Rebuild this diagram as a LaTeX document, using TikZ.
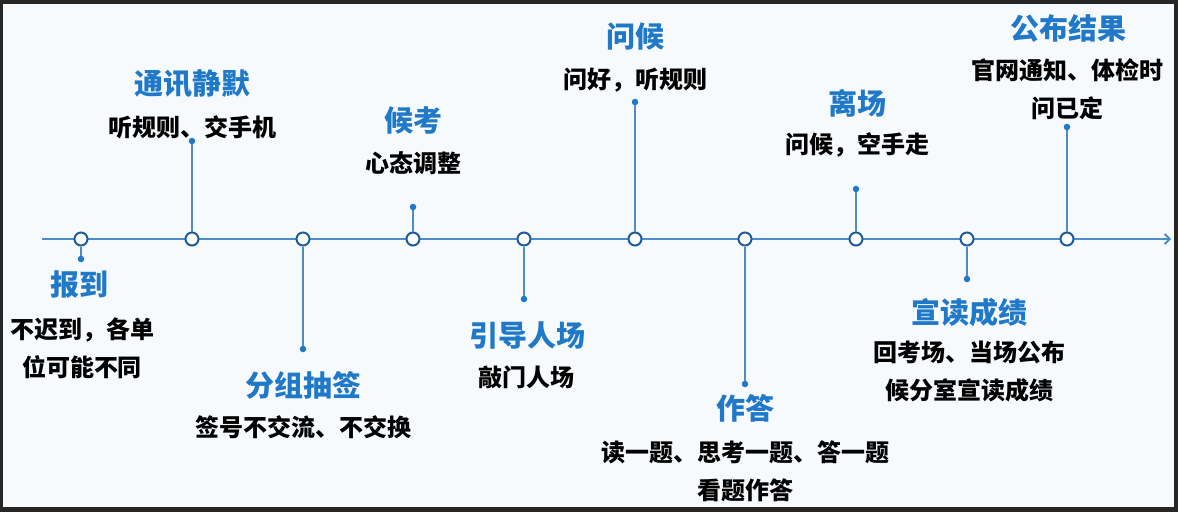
\documentclass[tikz,border=0pt]{standalone}
\usepackage{fontspec}
\setmainfont{Noto Sans CJK SC}
\usetikzlibrary{arrows.meta}
\definecolor{axisblue}{HTML}{4B8DCB}
\definecolor{ringblue}{HTML}{1F5C9A}
\definecolor{headblue}{HTML}{1F78C8}
\definecolor{paper}{HTML}{F7FAFD}

\begin{document}
\begin{tikzpicture}[x=1pt,y=-1pt,
    stage/.style={circle,draw=ringblue,fill=white,line width=2pt,minimum size=13pt,inner sep=0pt},
    stemdot/.style={circle,fill=headblue,minimum size=6.5pt,inner sep=0pt},
    stem/.style={draw=axisblue!85!gray,line width=1.3pt},
    headline/.style={text=headblue,font=\fontsize{29}{31}\selectfont\bfseries},
    note/.style={align=center,font=\fontsize{24}{38}\selectfont\bfseries}]
      \fill[black!85] (0,0) rectangle (1178,512);
      \fill[paper] (3,4) rectangle (1174,507);

      \coordinate (start) at (42,239);
      \coordinate (end) at (1171,239);
      \draw[axisblue,line width=1.9pt,-{Straight Barb[length=5pt,width=10pt]}] (start) -- (end);

      \node[stage] (baodao) at (81,239) {};
      \node[stage] (jingmo) at (192,239) {};
      \node[stage] (chouqian) at (303,239) {};
      \node[stage] (houkao) at (413,239) {};
      \node[stage] (ruchang) at (524,239) {};
      \node[stage] (wenhou) at (635,239) {};
      \node[stage] (zuoda) at (745,239) {};
      \node[stage] (lichang) at (856,239) {};
      \node[stage] (xuandu) at (967,239) {};
      \node[stage] (gongbu) at (1067,239) {};

      \node[stemdot] (baodao-d) at (81,259) {};
      \node[stemdot] (jingmo-d) at (192,141) {};
      \node[stemdot] (chouqian-d) at (303,349) {};
      \node[stemdot] (houkao-d) at (413,207) {};
      \node[stemdot] (ruchang-d) at (524,299) {};
      \node[stemdot] (wenhou-d) at (635,102) {};
      \node[stemdot] (zuoda-d) at (745,384) {};
      \node[stemdot] (lichang-d) at (856,189) {};
      \node[stemdot] (xuandu-d) at (967,279) {};
      \node[stemdot] (gongbu-d) at (1067,127) {};

      \draw[stem] (baodao) -- (baodao-d);
      \draw[stem] (jingmo) -- (jingmo-d);
      \draw[stem] (chouqian) -- (chouqian-d);
      \draw[stem] (houkao) -- (houkao-d);
      \draw[stem] (ruchang) -- (ruchang-d);
      \draw[stem] (wenhou) -- (wenhou-d);
      \draw[stem] (zuoda) -- (zuoda-d);
      \draw[stem] (lichang) -- (lichang-d);
      \draw[stem] (xuandu) -- (xuandu-d);
      \draw[stem] (gongbu) -- (gongbu-d);

      \node[headline] (baodao-t) at (79,285) {报到};
      \node[headline] (jingmo-t) at (192,84) {通讯静默};
      \node[headline] (chouqian-t) at (303,385) {分组抽签};
      \node[headline] (houkao-t) at (413,120) {候考};
      \node[headline] (ruchang-t) at (527,335) {引导人场};
      \node[headline] (wenhou-t) at (635,37) {问候};
      \node[headline] (zuoda-t) at (745,408) {作答};
      \node[headline] (lichang-t) at (857,103) {离场};
      \node[headline] (xuandu-t) at (969,312) {宣读成绩};
      \node[headline] (gongbu-t) at (1068,28) {公布结果};

      \node[note] (baodao-n) at (82,348) {不迟到，各单\\位可能不同};
      \node[note] (jingmo-n) at (192,127) {听规则、交手机};
      \node[note] (chouqian-n) at (303,427) {签号不交流、不交换};
      \node[note] (houkao-n) at (413,163) {心态调整};
      \node[note] (ruchang-n) at (526,377) {敲门人场};
      \node[note] (wenhou-n) at (635,80) {问好，听规则};
      \node[note] (zuoda-n) at (745,471) {读一题、思考一题、答一题\\看题作答};
      \node[note] (lichang-n) at (857,145) {问候，空手走};
      \node[note] (xuandu-n) at (969,372) {回考场、当场公布\\候分室宣读成绩};
      \node[note] (gongbu-n) at (1067,89) {官网通知、体检时\\问已定};
    \end{tikzpicture}
\end{document}
